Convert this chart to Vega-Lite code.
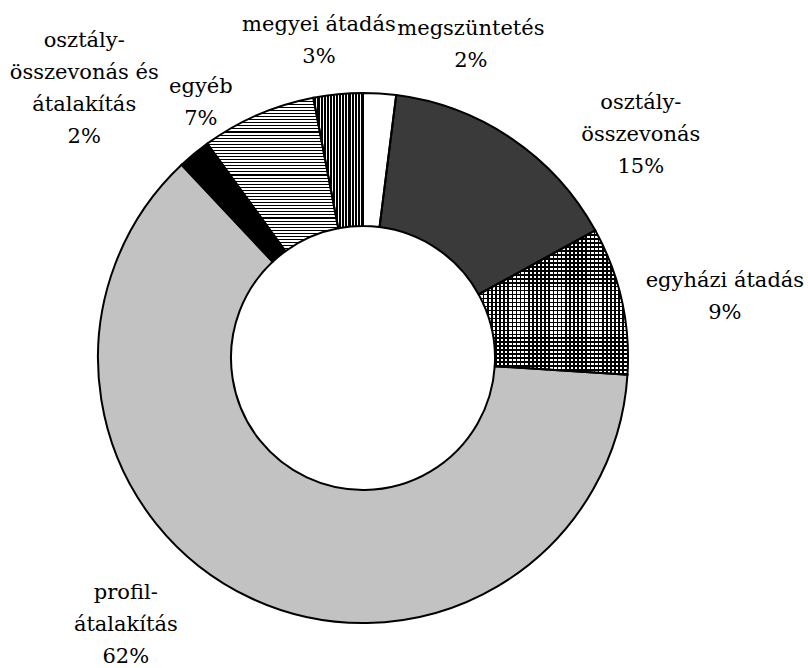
{
"$schema": "https://vega.github.io/schema/vega-lite/v6.json",
"width": 600,
"height": 600,
"autosize": {"type": "none"},
"padding": {"left": 63, "top": 58, "right": 145, "bottom": 10},
"background": "#ffffff",
"config": {"view": {"stroke": null}, "text": {"font": "DejaVu Serif"}},
"data": {"values": [
{"cat": "megszüntetés", "v": 2, "o": 1, "label": "megszüntetés\n2%"},
{"cat": "osztály-összevonás", "v": 15, "o": 2, "label": "osztály-\nösszevonás\n15%"},
{"cat": "egyházi átadás", "v": 9, "o": 3, "label": "egyházi átadás\n9%"},
{"cat": "profil-átalakítás", "v": 62, "o": 4, "label": "profil-\nátalakítás\n62%"},
{"cat": "osztály-összevonás és átalakítás", "v": 2, "o": 5, "label": "osztály-\nösszevonás és\nátalakítás\n2%"},
{"cat": "egyéb", "v": 7, "o": 6, "label": "egyéb\n7%"},
{"cat": "megyei átadás", "v": 3, "o": 7, "label": "megyei átadás\n3%"}
]},
"layer": [
{"mark": {"type": "arc", "outerRadius": 265, "innerRadius": 132, "stroke": null},
 "encoding": {
  "theta": {"field": "v", "type": "quantitative", "stack": true},
  "order": {"field": "o", "type": "quantitative"},
  "fill": {"condition": [
   {"test": "datum.cat === 'profil-átalakítás'", "value": "#c2c2c2"},
   {"test": "datum.cat === 'osztály-összevonás'", "value": "#3a3a3a"},
   {"test": "datum.cat === 'osztály-összevonás és átalakítás'", "value": "#000000"},
   {"test": "datum.cat === 'egyéb'", "value": {"gradient": "linear", "x1": 0, "y1": 0, "x2": 0, "y2": 1, "stops": [
{"offset":0,"color":"#000"},{"offset":0.007,"color":"#000"},{"offset":0.007,"color":"#fff"},{"offset":0.02,"color":"#fff"},
{"offset":0.02,"color":"#000"},{"offset":0.027,"color":"#000"},{"offset":0.027,"color":"#fff"},{"offset":0.04,"color":"#fff"},
{"offset":0.04,"color":"#000"},{"offset":0.047,"color":"#000"},{"offset":0.047,"color":"#fff"},{"offset":0.06,"color":"#fff"},
{"offset":0.06,"color":"#000"},{"offset":0.067,"color":"#000"},{"offset":0.067,"color":"#fff"},{"offset":0.08,"color":"#fff"},
{"offset":0.08,"color":"#000"},{"offset":0.087,"color":"#000"},{"offset":0.087,"color":"#fff"},{"offset":0.1,"color":"#fff"},
{"offset":0.1,"color":"#000"},{"offset":0.107,"color":"#000"},{"offset":0.107,"color":"#fff"},{"offset":0.12,"color":"#fff"},
{"offset":0.12,"color":"#000"},{"offset":0.127,"color":"#000"},{"offset":0.127,"color":"#fff"},{"offset":0.14,"color":"#fff"},
{"offset":0.14,"color":"#000"},{"offset":0.147,"color":"#000"},{"offset":0.147,"color":"#fff"},{"offset":0.16,"color":"#fff"},
{"offset":0.16,"color":"#000"},{"offset":0.167,"color":"#000"},{"offset":0.167,"color":"#fff"},{"offset":0.18,"color":"#fff"},
{"offset":0.18,"color":"#000"},{"offset":0.187,"color":"#000"},{"offset":0.187,"color":"#fff"},{"offset":0.2,"color":"#fff"},
{"offset":0.2,"color":"#000"},{"offset":0.207,"color":"#000"},{"offset":0.207,"color":"#fff"},{"offset":0.22,"color":"#fff"},
{"offset":0.22,"color":"#000"},{"offset":0.227,"color":"#000"},{"offset":0.227,"color":"#fff"},{"offset":0.24,"color":"#fff"},
{"offset":0.24,"color":"#000"},{"offset":0.247,"color":"#000"},{"offset":0.247,"color":"#fff"},{"offset":0.26,"color":"#fff"},
{"offset":0.26,"color":"#000"},{"offset":0.267,"color":"#000"},{"offset":0.267,"color":"#fff"},{"offset":0.28,"color":"#fff"},
{"offset":0.28,"color":"#000"},{"offset":0.287,"color":"#000"},{"offset":0.287,"color":"#fff"},{"offset":0.3,"color":"#fff"},
{"offset":0.3,"color":"#000"},{"offset":0.307,"color":"#000"},{"offset":0.307,"color":"#fff"},{"offset":0.32,"color":"#fff"},
{"offset":0.32,"color":"#000"},{"offset":0.327,"color":"#000"},{"offset":0.327,"color":"#fff"},{"offset":0.34,"color":"#fff"},
{"offset":0.34,"color":"#000"},{"offset":0.347,"color":"#000"},{"offset":0.347,"color":"#fff"},{"offset":0.36,"color":"#fff"},
{"offset":0.36,"color":"#000"},{"offset":0.367,"color":"#000"},{"offset":0.367,"color":"#fff"},{"offset":0.38,"color":"#fff"},
{"offset":0.38,"color":"#000"},{"offset":0.387,"color":"#000"},{"offset":0.387,"color":"#fff"},{"offset":0.4,"color":"#fff"},
{"offset":0.4,"color":"#000"},{"offset":0.407,"color":"#000"},{"offset":0.407,"color":"#fff"},{"offset":0.42,"color":"#fff"},
{"offset":0.42,"color":"#000"},{"offset":0.427,"color":"#000"},{"offset":0.427,"color":"#fff"},{"offset":0.44,"color":"#fff"},
{"offset":0.44,"color":"#000"},{"offset":0.447,"color":"#000"},{"offset":0.447,"color":"#fff"},{"offset":0.46,"color":"#fff"},
{"offset":0.46,"color":"#000"},{"offset":0.467,"color":"#000"},{"offset":0.467,"color":"#fff"},{"offset":0.48,"color":"#fff"},
{"offset":0.48,"color":"#000"},{"offset":0.487,"color":"#000"},{"offset":0.487,"color":"#fff"},{"offset":0.5,"color":"#fff"},
{"offset":0.5,"color":"#000"},{"offset":0.507,"color":"#000"},{"offset":0.507,"color":"#fff"},{"offset":0.52,"color":"#fff"},
{"offset":0.52,"color":"#000"},{"offset":0.527,"color":"#000"},{"offset":0.527,"color":"#fff"},{"offset":0.54,"color":"#fff"},
{"offset":0.54,"color":"#000"},{"offset":0.547,"color":"#000"},{"offset":0.547,"color":"#fff"},{"offset":0.56,"color":"#fff"},
{"offset":0.56,"color":"#000"},{"offset":0.567,"color":"#000"},{"offset":0.567,"color":"#fff"},{"offset":0.58,"color":"#fff"},
{"offset":0.58,"color":"#000"},{"offset":0.587,"color":"#000"},{"offset":0.587,"color":"#fff"},{"offset":0.6,"color":"#fff"},
{"offset":0.6,"color":"#000"},{"offset":0.607,"color":"#000"},{"offset":0.607,"color":"#fff"},{"offset":0.62,"color":"#fff"},
{"offset":0.62,"color":"#000"},{"offset":0.627,"color":"#000"},{"offset":0.627,"color":"#fff"},{"offset":0.64,"color":"#fff"},
{"offset":0.64,"color":"#000"},{"offset":0.647,"color":"#000"},{"offset":0.647,"color":"#fff"},{"offset":0.66,"color":"#fff"},
{"offset":0.66,"color":"#000"},{"offset":0.667,"color":"#000"},{"offset":0.667,"color":"#fff"},{"offset":0.68,"color":"#fff"},
{"offset":0.68,"color":"#000"},{"offset":0.687,"color":"#000"},{"offset":0.687,"color":"#fff"},{"offset":0.7,"color":"#fff"},
{"offset":0.7,"color":"#000"},{"offset":0.707,"color":"#000"},{"offset":0.707,"color":"#fff"},{"offset":0.72,"color":"#fff"},
{"offset":0.72,"color":"#000"},{"offset":0.727,"color":"#000"},{"offset":0.727,"color":"#fff"},{"offset":0.74,"color":"#fff"},
{"offset":0.74,"color":"#000"},{"offset":0.747,"color":"#000"},{"offset":0.747,"color":"#fff"},{"offset":0.76,"color":"#fff"},
{"offset":0.76,"color":"#000"},{"offset":0.767,"color":"#000"},{"offset":0.767,"color":"#fff"},{"offset":0.78,"color":"#fff"},
{"offset":0.78,"color":"#000"},{"offset":0.787,"color":"#000"},{"offset":0.787,"color":"#fff"},{"offset":0.8,"color":"#fff"},
{"offset":0.8,"color":"#000"},{"offset":0.807,"color":"#000"},{"offset":0.807,"color":"#fff"},{"offset":0.82,"color":"#fff"},
{"offset":0.82,"color":"#000"},{"offset":0.827,"color":"#000"},{"offset":0.827,"color":"#fff"},{"offset":0.84,"color":"#fff"},
{"offset":0.84,"color":"#000"},{"offset":0.847,"color":"#000"},{"offset":0.847,"color":"#fff"},{"offset":0.86,"color":"#fff"},
{"offset":0.86,"color":"#000"},{"offset":0.867,"color":"#000"},{"offset":0.867,"color":"#fff"},{"offset":0.88,"color":"#fff"},
{"offset":0.88,"color":"#000"},{"offset":0.887,"color":"#000"},{"offset":0.887,"color":"#fff"},{"offset":0.9,"color":"#fff"},
{"offset":0.9,"color":"#000"},{"offset":0.907,"color":"#000"},{"offset":0.907,"color":"#fff"},{"offset":0.92,"color":"#fff"},
{"offset":0.92,"color":"#000"},{"offset":0.927,"color":"#000"},{"offset":0.927,"color":"#fff"},{"offset":0.94,"color":"#fff"},
{"offset":0.94,"color":"#000"},{"offset":0.947,"color":"#000"},{"offset":0.947,"color":"#fff"},{"offset":0.96,"color":"#fff"},
{"offset":0.96,"color":"#000"},{"offset":0.967,"color":"#000"},{"offset":0.967,"color":"#fff"},{"offset":0.98,"color":"#fff"},
{"offset":0.98,"color":"#000"},{"offset":0.987,"color":"#000"},{"offset":0.987,"color":"#fff"},{"offset":1,"color":"#fff"}
   ]}},
   {"test": "datum.cat === 'megyei átadás'", "value": {"gradient": "linear", "x1": 0, "y1": 0, "x2": 1, "y2": 0, "stops": [
{"offset":0,"color":"#fff"},{"offset":0.02,"color":"#fff"},{"offset":0.02,"color":"#000"},{"offset":0.0625,"color":"#000"},
{"offset":0.0625,"color":"#fff"},{"offset":0.0825,"color":"#fff"},{"offset":0.0825,"color":"#000"},{"offset":0.125,"color":"#000"},
{"offset":0.125,"color":"#fff"},{"offset":0.145,"color":"#fff"},{"offset":0.145,"color":"#000"},{"offset":0.1875,"color":"#000"},
{"offset":0.1875,"color":"#fff"},{"offset":0.2075,"color":"#fff"},{"offset":0.2075,"color":"#000"},{"offset":0.25,"color":"#000"},
{"offset":0.25,"color":"#fff"},{"offset":0.27,"color":"#fff"},{"offset":0.27,"color":"#000"},{"offset":0.3125,"color":"#000"},
{"offset":0.3125,"color":"#fff"},{"offset":0.3325,"color":"#fff"},{"offset":0.3325,"color":"#000"},{"offset":0.375,"color":"#000"},
{"offset":0.375,"color":"#fff"},{"offset":0.395,"color":"#fff"},{"offset":0.395,"color":"#000"},{"offset":0.4375,"color":"#000"},
{"offset":0.4375,"color":"#fff"},{"offset":0.4575,"color":"#fff"},{"offset":0.4575,"color":"#000"},{"offset":0.5,"color":"#000"},
{"offset":0.5,"color":"#fff"},{"offset":0.52,"color":"#fff"},{"offset":0.52,"color":"#000"},{"offset":0.5625,"color":"#000"},
{"offset":0.5625,"color":"#fff"},{"offset":0.5825,"color":"#fff"},{"offset":0.5825,"color":"#000"},{"offset":0.625,"color":"#000"},
{"offset":0.625,"color":"#fff"},{"offset":0.645,"color":"#fff"},{"offset":0.645,"color":"#000"},{"offset":0.6875,"color":"#000"},
{"offset":0.6875,"color":"#fff"},{"offset":0.7075,"color":"#fff"},{"offset":0.7075,"color":"#000"},{"offset":0.75,"color":"#000"},
{"offset":0.75,"color":"#fff"},{"offset":0.77,"color":"#fff"},{"offset":0.77,"color":"#000"},{"offset":0.8125,"color":"#000"},
{"offset":0.8125,"color":"#fff"},{"offset":0.8325,"color":"#fff"},{"offset":0.8325,"color":"#000"},{"offset":0.875,"color":"#000"},
{"offset":0.875,"color":"#fff"},{"offset":0.895,"color":"#fff"},{"offset":0.895,"color":"#000"},{"offset":0.9375,"color":"#000"},
{"offset":0.9375,"color":"#fff"},{"offset":0.9575,"color":"#fff"},{"offset":0.9575,"color":"#000"},{"offset":1,"color":"#000"}
   ]}},
   {"test": "datum.cat === 'egyházi átadás'", "value": {"gradient": "linear", "x1": 0, "y1": 0, "x2": 0, "y2": 1, "stops": [
{"offset":0,"color":"#000"},{"offset":0.011,"color":"#000"},{"offset":0.011,"color":"#fff"},{"offset":0.0275,"color":"#fff"},
{"offset":0.0275,"color":"#000"},{"offset":0.0385,"color":"#000"},{"offset":0.0385,"color":"#fff"},{"offset":0.055,"color":"#fff"},
{"offset":0.055,"color":"#000"},{"offset":0.066,"color":"#000"},{"offset":0.066,"color":"#fff"},{"offset":0.0825,"color":"#fff"},
{"offset":0.0825,"color":"#000"},{"offset":0.0935,"color":"#000"},{"offset":0.0935,"color":"#fff"},{"offset":0.11,"color":"#fff"},
{"offset":0.11,"color":"#000"},{"offset":0.121,"color":"#000"},{"offset":0.121,"color":"#fff"},{"offset":0.1375,"color":"#fff"},
{"offset":0.1375,"color":"#000"},{"offset":0.1485,"color":"#000"},{"offset":0.1485,"color":"#fff"},{"offset":0.165,"color":"#fff"},
{"offset":0.165,"color":"#000"},{"offset":0.176,"color":"#000"},{"offset":0.176,"color":"#fff"},{"offset":0.1925,"color":"#fff"},
{"offset":0.1925,"color":"#000"},{"offset":0.2035,"color":"#000"},{"offset":0.2035,"color":"#fff"},{"offset":0.22,"color":"#fff"},
{"offset":0.22,"color":"#000"},{"offset":0.231,"color":"#000"},{"offset":0.231,"color":"#fff"},{"offset":0.2475,"color":"#fff"},
{"offset":0.2475,"color":"#000"},{"offset":0.2585,"color":"#000"},{"offset":0.2585,"color":"#fff"},{"offset":0.275,"color":"#fff"},
{"offset":0.275,"color":"#000"},{"offset":0.286,"color":"#000"},{"offset":0.286,"color":"#fff"},{"offset":0.3025,"color":"#fff"},
{"offset":0.3025,"color":"#000"},{"offset":0.3135,"color":"#000"},{"offset":0.3135,"color":"#fff"},{"offset":0.33,"color":"#fff"},
{"offset":0.33,"color":"#000"},{"offset":0.341,"color":"#000"},{"offset":0.341,"color":"#fff"},{"offset":0.3575,"color":"#fff"},
{"offset":0.3575,"color":"#000"},{"offset":0.3685,"color":"#000"},{"offset":0.3685,"color":"#fff"},{"offset":0.385,"color":"#fff"},
{"offset":0.385,"color":"#000"},{"offset":0.396,"color":"#000"},{"offset":0.396,"color":"#fff"},{"offset":0.4125,"color":"#fff"},
{"offset":0.4125,"color":"#000"},{"offset":0.4235,"color":"#000"},{"offset":0.4235,"color":"#fff"},{"offset":0.44,"color":"#fff"},
{"offset":0.44,"color":"#000"},{"offset":0.451,"color":"#000"},{"offset":0.451,"color":"#fff"},{"offset":0.4675,"color":"#fff"},
{"offset":0.4675,"color":"#000"},{"offset":0.4785,"color":"#000"},{"offset":0.4785,"color":"#fff"},{"offset":0.495,"color":"#fff"},
{"offset":0.495,"color":"#000"},{"offset":0.506,"color":"#000"},{"offset":0.506,"color":"#fff"},{"offset":0.5225,"color":"#fff"},
{"offset":0.5225,"color":"#000"},{"offset":0.5335,"color":"#000"},{"offset":0.5335,"color":"#fff"},{"offset":0.55,"color":"#fff"},
{"offset":0.55,"color":"#000"},{"offset":0.561,"color":"#000"},{"offset":0.561,"color":"#fff"},{"offset":0.5775,"color":"#fff"},
{"offset":0.5775,"color":"#000"},{"offset":0.5885,"color":"#000"},{"offset":0.5885,"color":"#fff"},{"offset":0.605,"color":"#fff"},
{"offset":0.605,"color":"#000"},{"offset":0.616,"color":"#000"},{"offset":0.616,"color":"#fff"},{"offset":0.6325,"color":"#fff"},
{"offset":0.6325,"color":"#000"},{"offset":0.6435,"color":"#000"},{"offset":0.6435,"color":"#fff"},{"offset":0.66,"color":"#fff"},
{"offset":0.66,"color":"#000"},{"offset":0.671,"color":"#000"},{"offset":0.671,"color":"#fff"},{"offset":0.6875,"color":"#fff"},
{"offset":0.6875,"color":"#000"},{"offset":0.6985,"color":"#000"},{"offset":0.6985,"color":"#fff"},{"offset":0.715,"color":"#fff"},
{"offset":0.715,"color":"#000"},{"offset":0.726,"color":"#000"},{"offset":0.726,"color":"#fff"},{"offset":0.7425,"color":"#fff"},
{"offset":0.7425,"color":"#000"},{"offset":0.7535,"color":"#000"},{"offset":0.7535,"color":"#fff"},{"offset":0.77,"color":"#fff"},
{"offset":0.77,"color":"#000"},{"offset":0.781,"color":"#000"},{"offset":0.781,"color":"#fff"},{"offset":0.7975,"color":"#fff"},
{"offset":0.7975,"color":"#000"},{"offset":0.8085,"color":"#000"},{"offset":0.8085,"color":"#fff"},{"offset":0.825,"color":"#fff"},
{"offset":0.825,"color":"#000"},{"offset":0.836,"color":"#000"},{"offset":0.836,"color":"#fff"},{"offset":0.8525,"color":"#fff"},
{"offset":0.8525,"color":"#000"},{"offset":0.8635,"color":"#000"},{"offset":0.8635,"color":"#fff"},{"offset":0.88,"color":"#fff"},
{"offset":0.88,"color":"#000"},{"offset":0.891,"color":"#000"},{"offset":0.891,"color":"#fff"},{"offset":0.9075,"color":"#fff"},
{"offset":0.9075,"color":"#000"},{"offset":0.9185,"color":"#000"},{"offset":0.9185,"color":"#fff"},{"offset":0.935,"color":"#fff"},
{"offset":0.935,"color":"#000"},{"offset":0.946,"color":"#000"},{"offset":0.946,"color":"#fff"},{"offset":0.9625,"color":"#fff"},
{"offset":0.9625,"color":"#000"},{"offset":0.9735,"color":"#000"},{"offset":0.9735,"color":"#fff"},{"offset":0.99,"color":"#fff"},
{"offset":0.99,"color":"#000"},{"offset":1,"color":"#000"}
   ]}}
  ],
  "value": "#ffffff"}
 }},
{"mark": {"type": "arc", "outerRadius": 265, "innerRadius": 132, "stroke": "#000000", "strokeWidth": 2},
 "encoding": {
  "theta": {"field": "v", "type": "quantitative", "stack": true},
  "order": {"field": "o", "type": "quantitative"},
  "fill": {"condition": {"test": "datum.cat === 'egyházi átadás'", "value": {"gradient": "linear", "x1": 0, "y1": 0, "x2": 1, "y2": 0, "stops": [
{"offset":0,"color":"#000"},{"offset":0.011,"color":"#000"},{"offset":0.011,"color":"rgba(0,0,0,0)"},{"offset":0.0275,"color":"rgba(0,0,0,0)"},
{"offset":0.0275,"color":"#000"},{"offset":0.0385,"color":"#000"},{"offset":0.0385,"color":"rgba(0,0,0,0)"},{"offset":0.055,"color":"rgba(0,0,0,0)"},
{"offset":0.055,"color":"#000"},{"offset":0.066,"color":"#000"},{"offset":0.066,"color":"rgba(0,0,0,0)"},{"offset":0.0825,"color":"rgba(0,0,0,0)"},
{"offset":0.0825,"color":"#000"},{"offset":0.0935,"color":"#000"},{"offset":0.0935,"color":"rgba(0,0,0,0)"},{"offset":0.11,"color":"rgba(0,0,0,0)"},
{"offset":0.11,"color":"#000"},{"offset":0.121,"color":"#000"},{"offset":0.121,"color":"rgba(0,0,0,0)"},{"offset":0.1375,"color":"rgba(0,0,0,0)"},
{"offset":0.1375,"color":"#000"},{"offset":0.1485,"color":"#000"},{"offset":0.1485,"color":"rgba(0,0,0,0)"},{"offset":0.165,"color":"rgba(0,0,0,0)"},
{"offset":0.165,"color":"#000"},{"offset":0.176,"color":"#000"},{"offset":0.176,"color":"rgba(0,0,0,0)"},{"offset":0.1925,"color":"rgba(0,0,0,0)"},
{"offset":0.1925,"color":"#000"},{"offset":0.2035,"color":"#000"},{"offset":0.2035,"color":"rgba(0,0,0,0)"},{"offset":0.22,"color":"rgba(0,0,0,0)"},
{"offset":0.22,"color":"#000"},{"offset":0.231,"color":"#000"},{"offset":0.231,"color":"rgba(0,0,0,0)"},{"offset":0.2475,"color":"rgba(0,0,0,0)"},
{"offset":0.2475,"color":"#000"},{"offset":0.2585,"color":"#000"},{"offset":0.2585,"color":"rgba(0,0,0,0)"},{"offset":0.275,"color":"rgba(0,0,0,0)"},
{"offset":0.275,"color":"#000"},{"offset":0.286,"color":"#000"},{"offset":0.286,"color":"rgba(0,0,0,0)"},{"offset":0.3025,"color":"rgba(0,0,0,0)"},
{"offset":0.3025,"color":"#000"},{"offset":0.3135,"color":"#000"},{"offset":0.3135,"color":"rgba(0,0,0,0)"},{"offset":0.33,"color":"rgba(0,0,0,0)"},
{"offset":0.33,"color":"#000"},{"offset":0.341,"color":"#000"},{"offset":0.341,"color":"rgba(0,0,0,0)"},{"offset":0.3575,"color":"rgba(0,0,0,0)"},
{"offset":0.3575,"color":"#000"},{"offset":0.3685,"color":"#000"},{"offset":0.3685,"color":"rgba(0,0,0,0)"},{"offset":0.385,"color":"rgba(0,0,0,0)"},
{"offset":0.385,"color":"#000"},{"offset":0.396,"color":"#000"},{"offset":0.396,"color":"rgba(0,0,0,0)"},{"offset":0.4125,"color":"rgba(0,0,0,0)"},
{"offset":0.4125,"color":"#000"},{"offset":0.4235,"color":"#000"},{"offset":0.4235,"color":"rgba(0,0,0,0)"},{"offset":0.44,"color":"rgba(0,0,0,0)"},
{"offset":0.44,"color":"#000"},{"offset":0.451,"color":"#000"},{"offset":0.451,"color":"rgba(0,0,0,0)"},{"offset":0.4675,"color":"rgba(0,0,0,0)"},
{"offset":0.4675,"color":"#000"},{"offset":0.4785,"color":"#000"},{"offset":0.4785,"color":"rgba(0,0,0,0)"},{"offset":0.495,"color":"rgba(0,0,0,0)"},
{"offset":0.495,"color":"#000"},{"offset":0.506,"color":"#000"},{"offset":0.506,"color":"rgba(0,0,0,0)"},{"offset":0.5225,"color":"rgba(0,0,0,0)"},
{"offset":0.5225,"color":"#000"},{"offset":0.5335,"color":"#000"},{"offset":0.5335,"color":"rgba(0,0,0,0)"},{"offset":0.55,"color":"rgba(0,0,0,0)"},
{"offset":0.55,"color":"#000"},{"offset":0.561,"color":"#000"},{"offset":0.561,"color":"rgba(0,0,0,0)"},{"offset":0.5775,"color":"rgba(0,0,0,0)"},
{"offset":0.5775,"color":"#000"},{"offset":0.5885,"color":"#000"},{"offset":0.5885,"color":"rgba(0,0,0,0)"},{"offset":0.605,"color":"rgba(0,0,0,0)"},
{"offset":0.605,"color":"#000"},{"offset":0.616,"color":"#000"},{"offset":0.616,"color":"rgba(0,0,0,0)"},{"offset":0.6325,"color":"rgba(0,0,0,0)"},
{"offset":0.6325,"color":"#000"},{"offset":0.6435,"color":"#000"},{"offset":0.6435,"color":"rgba(0,0,0,0)"},{"offset":0.66,"color":"rgba(0,0,0,0)"},
{"offset":0.66,"color":"#000"},{"offset":0.671,"color":"#000"},{"offset":0.671,"color":"rgba(0,0,0,0)"},{"offset":0.6875,"color":"rgba(0,0,0,0)"},
{"offset":0.6875,"color":"#000"},{"offset":0.6985,"color":"#000"},{"offset":0.6985,"color":"rgba(0,0,0,0)"},{"offset":0.715,"color":"rgba(0,0,0,0)"},
{"offset":0.715,"color":"#000"},{"offset":0.726,"color":"#000"},{"offset":0.726,"color":"rgba(0,0,0,0)"},{"offset":0.7425,"color":"rgba(0,0,0,0)"},
{"offset":0.7425,"color":"#000"},{"offset":0.7535,"color":"#000"},{"offset":0.7535,"color":"rgba(0,0,0,0)"},{"offset":0.77,"color":"rgba(0,0,0,0)"},
{"offset":0.77,"color":"#000"},{"offset":0.781,"color":"#000"},{"offset":0.781,"color":"rgba(0,0,0,0)"},{"offset":0.7975,"color":"rgba(0,0,0,0)"},
{"offset":0.7975,"color":"#000"},{"offset":0.8085,"color":"#000"},{"offset":0.8085,"color":"rgba(0,0,0,0)"},{"offset":0.825,"color":"rgba(0,0,0,0)"},
{"offset":0.825,"color":"#000"},{"offset":0.836,"color":"#000"},{"offset":0.836,"color":"rgba(0,0,0,0)"},{"offset":0.8525,"color":"rgba(0,0,0,0)"},
{"offset":0.8525,"color":"#000"},{"offset":0.8635,"color":"#000"},{"offset":0.8635,"color":"rgba(0,0,0,0)"},{"offset":0.88,"color":"rgba(0,0,0,0)"},
{"offset":0.88,"color":"#000"},{"offset":0.891,"color":"#000"},{"offset":0.891,"color":"rgba(0,0,0,0)"},{"offset":0.9075,"color":"rgba(0,0,0,0)"},
{"offset":0.9075,"color":"#000"},{"offset":0.9185,"color":"#000"},{"offset":0.9185,"color":"rgba(0,0,0,0)"},{"offset":0.935,"color":"rgba(0,0,0,0)"},
{"offset":0.935,"color":"#000"},{"offset":0.946,"color":"#000"},{"offset":0.946,"color":"rgba(0,0,0,0)"},{"offset":0.9625,"color":"rgba(0,0,0,0)"},
{"offset":0.9625,"color":"#000"},{"offset":0.9735,"color":"#000"},{"offset":0.9735,"color":"rgba(0,0,0,0)"},{"offset":0.99,"color":"rgba(0,0,0,0)"},
{"offset":0.99,"color":"#000"},{"offset":1,"color":"#000"}
  ]}}, "value": "rgba(0,0,0,0)"}
 }},
{"mark": {"type": "text", "font": "DejaVu Serif", "fontSize": 21, "lineHeight": 32, "lineBreak": "\n", "align": "center", "baseline": "middle", "color": "#000000", "radius": 346, "thetaOffset": 0.2543},
 "encoding": {"theta": {"field": "v", "type": "quantitative", "stack": true}, "order": {"field": "o", "type": "quantitative"},
  "text": {"condition": {"test": "datum.cat === 'megszüntetés'", "field": "label", "type": "nominal"}, "value": ""}}},
{"mark": {"type": "text", "font": "DejaVu Serif", "fontSize": 21, "lineHeight": 32, "lineBreak": "\n", "align": "center", "baseline": "middle", "color": "#000000", "radius": 377, "thetaOffset": 0.2316},
 "encoding": {"theta": {"field": "v", "type": "quantitative", "stack": true}, "order": {"field": "o", "type": "quantitative"},
  "text": {"condition": {"test": "datum.cat === 'osztály-összevonás'", "field": "label", "type": "nominal"}, "value": ""}}},
{"mark": {"type": "text", "font": "DejaVu Serif", "fontSize": 21, "lineHeight": 32, "lineBreak": "\n", "align": "center", "baseline": "middle", "color": "#000000", "radius": 370, "thetaOffset": 0.0103},
 "encoding": {"theta": {"field": "v", "type": "quantitative", "stack": true}, "order": {"field": "o", "type": "quantitative"},
  "text": {"condition": {"test": "datum.cat === 'egyházi átadás'", "field": "label", "type": "nominal"}, "value": ""}}},
{"mark": {"type": "text", "font": "DejaVu Serif", "fontSize": 21, "lineHeight": 32, "lineBreak": "\n", "align": "center", "baseline": "middle", "color": "#000000", "radius": 334, "thetaOffset": 0.3498},
 "encoding": {"theta": {"field": "v", "type": "quantitative", "stack": true}, "order": {"field": "o", "type": "quantitative"},
  "text": {"condition": {"test": "datum.cat === 'profil-átalakítás'", "field": "label", "type": "nominal"}, "value": ""}}},
{"mark": {"type": "text", "font": "DejaVu Serif", "fontSize": 21, "lineHeight": 32, "lineBreak": "\n", "align": "center", "baseline": "middle", "color": "#000000", "radius": 422, "thetaOffset": -0.0305},
 "encoding": {"theta": {"field": "v", "type": "quantitative", "stack": true}, "order": {"field": "o", "type": "quantitative"},
  "text": {"condition": {"test": "datum.cat === 'osztály-összevonás és átalakítás'", "field": "label", "type": "nominal"}, "value": ""}}},
{"mark": {"type": "text", "font": "DejaVu Serif", "fontSize": 21, "lineHeight": 32, "lineBreak": "\n", "align": "center", "baseline": "middle", "color": "#000000", "radius": 316, "thetaOffset": -0.1304},
 "encoding": {"theta": {"field": "v", "type": "quantitative", "stack": true}, "order": {"field": "o", "type": "quantitative"},
  "text": {"condition": {"test": "datum.cat === 'egyéb'", "field": "label", "type": "nominal"}, "value": ""}}},
{"mark": {"type": "text", "font": "DejaVu Serif", "fontSize": 21, "lineHeight": 32, "lineBreak": "\n", "align": "center", "baseline": "middle", "color": "#000000", "radius": 336, "thetaOffset": -0.0372},
 "encoding": {"theta": {"field": "v", "type": "quantitative", "stack": true}, "order": {"field": "o", "type": "quantitative"},
  "text": {"condition": {"test": "datum.cat === 'megyei átadás'", "field": "label", "type": "nominal"}, "value": ""}}}
]
}
